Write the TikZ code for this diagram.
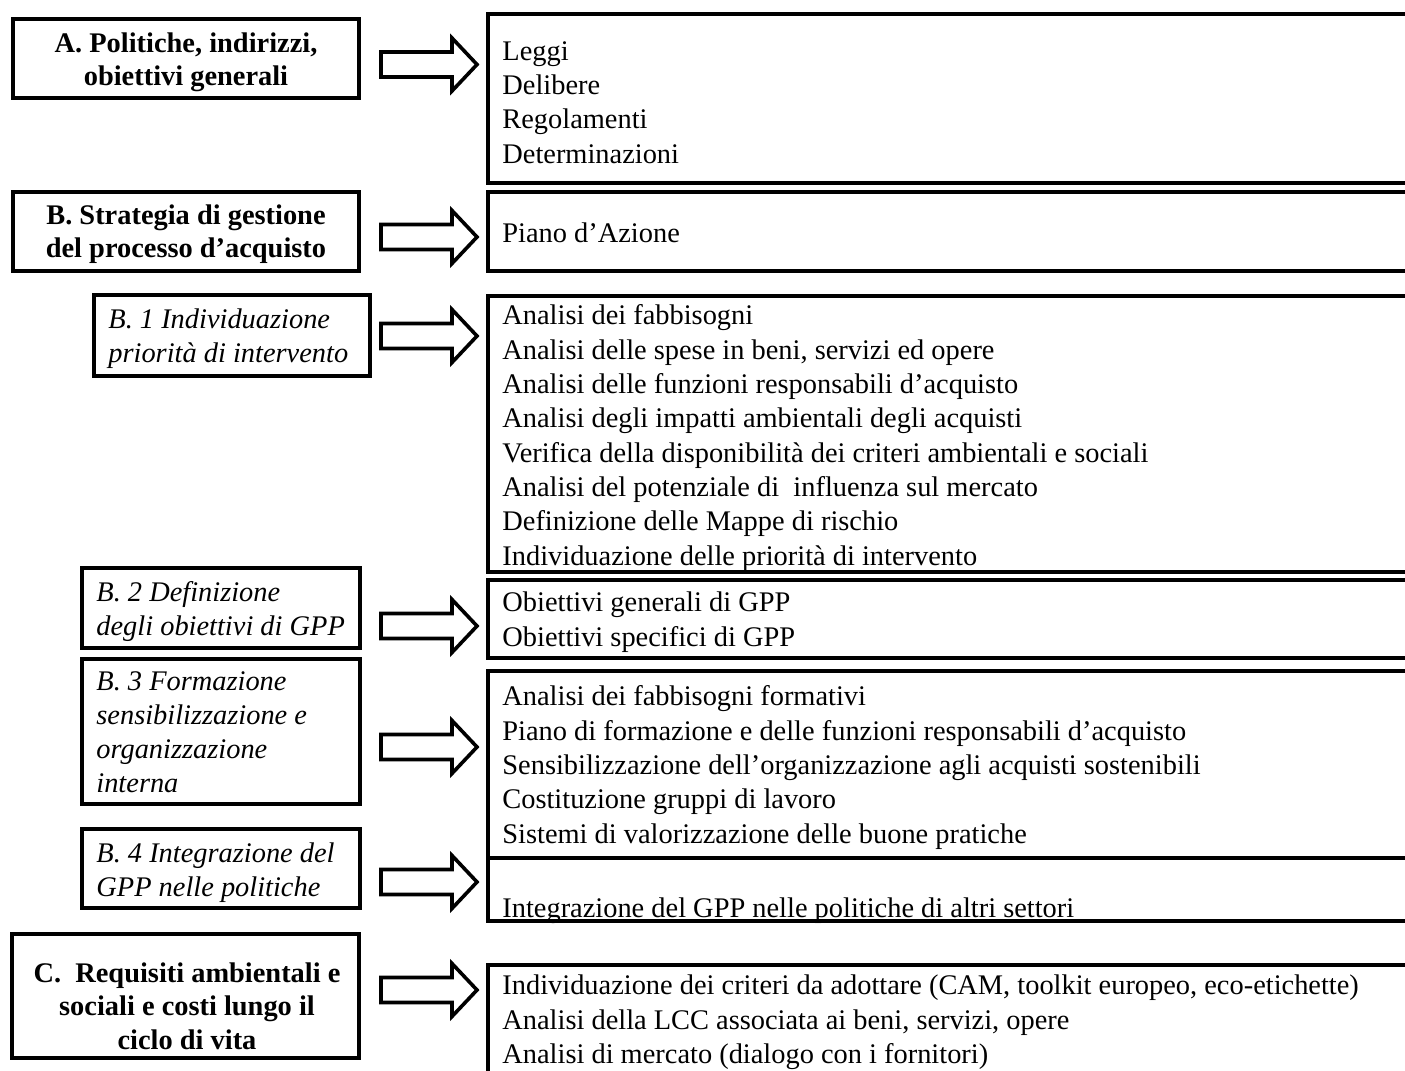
\documentclass[tikz,border=0pt]{standalone}
\usepackage{fontspec}
\setmainfont{Liberation Serif}
\tikzset{
  box/.style={draw, line width=2pt, inner sep=0pt, outer sep=0pt},
  arrowline/.style={line width=1.8pt, fill=white, line join=miter},
  headtext/.style={font=\fontsize{14.2}{16.75}\selectfont\bfseries, align=center, anchor=base, inner sep=0pt},
  subtext/.style={font=\fontsize{14.2}{17}\selectfont\itshape, align=left, anchor=base west, inner sep=0pt},
  listtext/.style={font=\fontsize{14.2}{17.15}\selectfont, align=left, anchor=base west, inner sep=0pt},
  bigarrow/.pic={\draw[arrowline] (-48,-12.5) -- (23,-12.5) -- (23,-26.5) -- (48,0) -- (23,26.5) -- (23,12.5) -- (-48,12.5) -- cycle;}
}
\begin{document}
\begin{tikzpicture}[x=0.5pt, y=-0.5pt]
    \useasboundingbox (0,0) rectangle (1405,1071);
    \clip (0,0) rectangle (1405,1071);

    % left column
    \node[box, minimum width=173pt, minimum height=39.5pt] (lA) at (186,58.5) {};
    \node[box, minimum width=173pt, minimum height=39.5pt] (lB) at (186,231.5) {};
    \node[box, minimum width=138pt, minimum height=40.5pt] (lB1) at (232,335.5) {};
    \node[box, minimum width=139pt, minimum height=40pt] (lB2) at (221,608) {};
    \node[box, minimum width=139pt, minimum height=72.5pt] (lB3) at (221,731.5) {};
    \node[box, minimum width=139pt, minimum height=39.5pt] (lB4) at (221,868.5) {};
    \node[box, minimum width=173.5pt, minimum height=62pt] (lC) at (185.5,996) {};

    % texts sit on the baseline of their last line
    \node[headtext] (tA) at (186,85.5) {A. Politiche, indirizzi,\\obiettivi generali};
    \node[headtext] (tB) at (186,257.5) {B. Strategia di gestione\\del processo d’acquisto};
    \node[subtext] (tB1) at (108,362) {B. 1 Individuazione\\priorità di intervento};
    \node[subtext] (tB2) at (96,635) {B. 2 Definizione\\degli obiettivi di GPP};
    \node[subtext] (tB3) at (96,792) {B. 3 Formazione\\sensibilizzazione e\\organizzazione\\interna};
    \node[subtext] (tB4) at (96,896) {B. 4 Integrazione del\\GPP nelle politiche};
    \node[headtext] (tC) at (187,1049) {C.\ \ Requisiti ambientali e\\sociali e costi lungo il\\ciclo di vita};

    % arrows
    \pic at (429,64.5) {bigarrow};
    \pic at (429,237) {bigarrow};
    \pic at (429,336) {bigarrow};
    \pic at (429,626) {bigarrow};
    \pic at (429,747) {bigarrow};
    \pic at (429,882) {bigarrow};
    \pic at (429,990) {bigarrow};

    % right column (runs past the page edge)
    \node[box, minimum width=466pt, minimum height=84.5pt] (rA) at (954,98.5) {};
    \node[box, minimum width=466pt, minimum height=39.5pt] (rB) at (954,231.5) {};
    \node[box, minimum width=466pt, minimum height=138pt] (rB1) at (954,434) {};
    \node[box, minimum width=466pt, minimum height=39pt] (rB2) at (954,619) {};
    \node[box, minimum width=466pt, minimum height=93.5pt] (rB3) at (954,764.5) {};
    \node[box, minimum width=466pt, minimum height=31.5pt] (rB4) at (954,889.5) {};
    \node[box, minimum width=466pt, minimum height=62.5pt] (rC) at (954,1027.5) {};

    \node[listtext] (xA) at (502,163) {Leggi\\Delibere\\Regolamenti\\Determinazioni};
    \node[listtext] (xB) at (502,242) {Piano d’Azione};
    \node[listtext] (xB1) at (502,565) {Analisi dei fabbisogni\\
        Analisi delle spese in beni, servizi ed opere\\
        Analisi delle funzioni responsabili d’acquisto\\
        Analisi degli impatti ambientali degli acquisti\\
        Verifica della disponibilità dei criteri ambientali e sociali\\
        Analisi del potenziale di\ \ influenza sul mercato\\
        Definizione delle Mappe di rischio\\
        Individuazione delle priorità di intervento};
    \node[listtext] (xB2) at (502,646) {Obiettivi generali di GPP\\Obiettivi specifici di GPP};
    \node[listtext] (xB3) at (502,843) {Analisi dei fabbisogni formativi\\
        Piano di formazione e delle funzioni responsabili d’acquisto\\
        Sensibilizzazione dell’organizzazione agli acquisti sostenibili\\
        Costituzione gruppi di lavoro\\
        Sistemi di valorizzazione delle buone pratiche};
    \node[listtext] (xB4) at (502,917) {Integrazione del GPP nelle politiche di altri settori};
    \node[listtext] (xC) at (502,1063.5) {Individuazione dei criteri da adottare (CAM, toolkit europeo, eco-etichette)\\
        Analisi della LCC associata ai beni, servizi, opere\\
        Analisi di mercato (dialogo con i fornitori)};

\end{tikzpicture}
\end{document}
